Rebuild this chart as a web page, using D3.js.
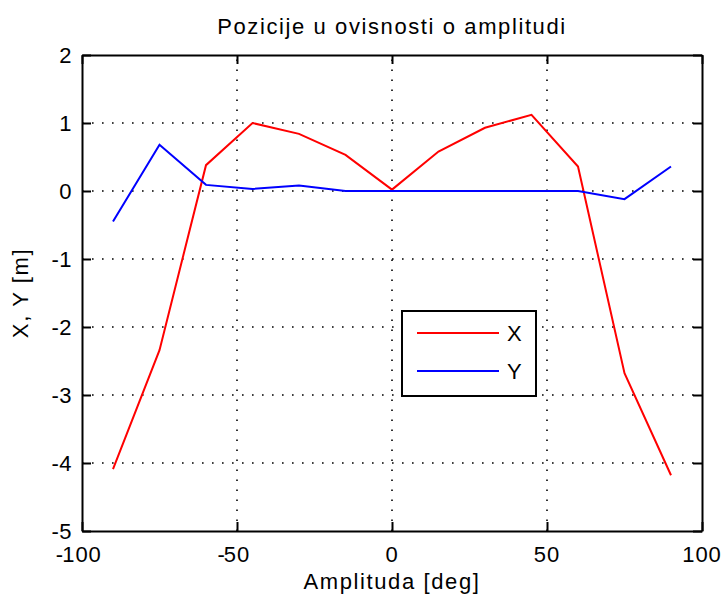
<!DOCTYPE html>
<html><head><meta charset="utf-8">
<script src="https://cdn.jsdelivr.net/npm/d3@7"></script>
<style>
html,body{margin:0;padding:0;background:#fff;}
svg{display:block;}
text{font-family:"Liberation Sans",Arial,sans-serif;fill:#000;}
</style></head>
<body>
<script>
const amplitude = [-90, -75, -60, -45, -30, -15, 0, 15, 30, 45, 60, 75, 90];
const seriesX = [-4.09, -2.34, 0.38, 1.0, 0.84, 0.53, 0.02, 0.58, 0.93, 1.12, 0.36, -2.68, -4.18];
const seriesY = [-0.45, 0.68, 0.09, 0.03, 0.08, 0.0, 0.0, 0.0, 0.0, 0.0, 0.0, -0.12, 0.36];
const xTicks = [-100, -50, 0, 50, 100];
const yTicks = [2, 1, 0, -1, -2, -3, -4, -5];
const seriesNames = ["X", "Y"];
const seriesColors = ["#ff0000", "#0000ff"];
const titleText = "Pozicije u ovisnosti o amplitudi";
const xLabelText = "Amplituda [deg]";
const yLabelText = "X, Y [m]";

const W = 725, H = 606;
const L = 82, R = 702, T = 55, B = 531;
const FS = 22, LS = 1.6;

const svg = d3.select("body").append("svg").attr("width", W).attr("height", H);
svg.append("rect").attr("width", W).attr("height", H).attr("fill", "#fff");

const x = d3.scaleLinear().domain([-100, 100]).range([L, R]);
const y = d3.scaleLinear().domain([-5, 2]).range([B, T]);

// grid
const grid = svg.append("g").attr("stroke", "#000").attr("stroke-width", 1.6)
  .attr("stroke-dasharray", "1.6,8.4").attr("fill", "none");
xTicks.filter(d => d > -100 && d < 100).forEach(d => {
  grid.append("line").attr("x1", x(d)).attr("x2", x(d)).attr("y1", B).attr("y2", T);
});
yTicks.filter(d => d > -5 && d < 2).forEach(d => {
  grid.append("line").attr("x1", L).attr("x2", R).attr("y1", y(d)).attr("y2", y(d));
});

// axes with inward ticks
const tk = 9;
function styleAxis(g) {
  g.selectAll("text").remove();
  g.selectAll("path,line").attr("stroke", "#000").attr("stroke-width", 2);
}
svg.append("g").attr("transform", `translate(0,${B})`)
  .call(d3.axisBottom(x).tickValues(xTicks).tickSizeInner(-tk).tickSizeOuter(0)).call(styleAxis);
svg.append("g").attr("transform", `translate(0,${T})`)
  .call(d3.axisTop(x).tickValues(xTicks).tickSizeInner(-tk).tickSizeOuter(0)).call(styleAxis);
svg.append("g").attr("transform", `translate(${L},0)`)
  .call(d3.axisLeft(y).tickValues(yTicks).tickSizeInner(-tk).tickSizeOuter(0)).call(styleAxis);
svg.append("g").attr("transform", `translate(${R},0)`)
  .call(d3.axisRight(y).tickValues(yTicks).tickSizeInner(-tk).tickSizeOuter(0)).call(styleAxis);
svg.selectAll(".domain").attr("fill", "none");

// x tick labels: digits centered on tick, minus hangs left
xTicks.forEach(d => {
  const t = svg.append("text").attr("x", x(d)).attr("y", B + 31)
    .attr("text-anchor", "middle").attr("font-size", FS).attr("letter-spacing", 1)
    .text(Math.abs(d));
  if (d < 0) {
    const w = t.node().getComputedTextLength();
    svg.append("text").attr("x", x(d) - w / 2 + 1).attr("y", B + 31)
      .attr("text-anchor", "end").attr("font-size", FS).text("-");
  }
});
// y tick labels
yTicks.forEach(d => {
  svg.append("text").attr("x", L - 10).attr("y", y(d) + 8)
    .attr("text-anchor", "end").attr("font-size", FS).attr("letter-spacing", 0.5)
    .text(d);
});

// lines
const line = d3.line().x((d, i) => x(amplitude[i])).y(d => y(d));
[seriesX, seriesY].forEach((s, k) => {
  svg.append("path").datum(s).attr("d", line).attr("fill", "none")
    .attr("stroke", seriesColors[k]).attr("stroke-width", 2);
});

// title & labels
svg.append("text").attr("x", (L + R) / 2).attr("y", 34).attr("text-anchor", "middle")
  .attr("font-size", FS).attr("letter-spacing", LS).text(titleText);
svg.append("text").attr("x", (L + R) / 2).attr("y", 589).attr("text-anchor", "middle")
  .attr("font-size", FS).attr("letter-spacing", LS).text(xLabelText);
svg.append("text").attr("transform", `translate(28,${(T + B) / 2}) rotate(-90)`)
  .attr("text-anchor", "middle").attr("font-size", FS).attr("letter-spacing", LS).text(yLabelText);

// legend
const lg = svg.append("g");
lg.append("rect").attr("x", 402).attr("y", 311).attr("width", 134).attr("height", 85)
  .attr("fill", "#fff").attr("stroke", "#000").attr("stroke-width", 2);
seriesNames.forEach((n, i) => {
  const ly = 333 + i * 38;
  lg.append("line").attr("x1", 417).attr("x2", 499).attr("y1", ly).attr("y2", ly)
    .attr("stroke", seriesColors[i]).attr("stroke-width", 2);
  lg.append("text").attr("x", 507).attr("y", ly + 8).attr("font-size", FS).text(n);
});
</script>
</body></html>
